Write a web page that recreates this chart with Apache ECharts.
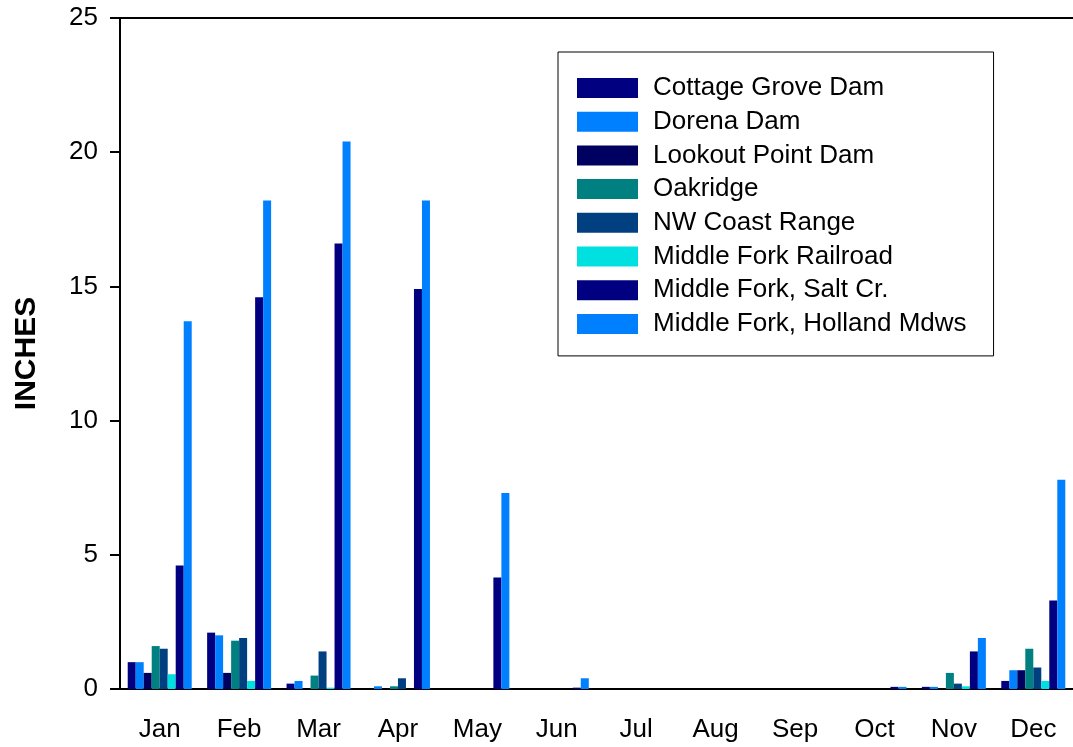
<!DOCTYPE html>
<html>
<head>
<meta charset="utf-8">
<script src="https://cdn.jsdelivr.net/npm/echarts@6/dist/echarts.min.js"></script>
<style>
  html, body { margin: 0; padding: 0; background: #fff; }
  #chart { width: 1073px; height: 747px; }
</style>
</head>
<body>
<div id="chart"></div>
<script>
// months on the x axis
const months = ['Jan', 'Feb', 'Mar', 'Apr', 'May', 'Jun', 'Jul', 'Aug', 'Sep', 'Oct', 'Nov', 'Dec'];

// inches per month, one array per station
const cottageGrove = [1.0, 2.1, 0.2, 0, 0, 0, 0, 0, 0, 0, 0.08, 0.3];
const dorena = [1.0, 2.0, 0.3, 0.1, 0, 0, 0, 0, 0, 0, 0.08, 0.7];
const lookoutPoint = [0.6, 0.6, 0, 0, 0, 0, 0, 0, 0, 0, 0, 0.7];
const oakridge = [1.6, 1.8, 0.5, 0.1, 0, 0, 0, 0, 0, 0, 0.6, 1.5];
const nwCoast = [1.5, 1.9, 1.4, 0.4, 0, 0, 0, 0, 0, 0, 0.2, 0.8];
const railroad = [0.55, 0.3, 0.05, 0, 0, 0, 0, 0, 0, 0, 0.1, 0.3];
const saltCr = [4.6, 14.6, 16.6, 14.9, 4.15, 0.05, 0, 0, 0, 0.08, 1.4, 3.3];
const hollandMdws = [13.7, 18.2, 20.4, 18.2, 7.3, 0.4, 0, 0, 0, 0.08, 1.9, 7.8];

const names = ['Cottage Grove Dam', 'Dorena Dam', 'Lookout Point Dam', 'Oakridge',
  'NW Coast Range', 'Middle Fork Railroad', 'Middle Fork, Salt Cr.', 'Middle Fork, Holland Mdws'];
const values = [cottageGrove, dorena, lookoutPoint, oakridge, nwCoast, railroad, saltCr, hollandMdws];
const colors = ['#000080', '#0080ff', '#000060', '#008080', '#004080', '#00e0e0', '#000080', '#0080ff'];

const font = '"Liberation Sans", Arial, sans-serif';

const chart = echarts.init(document.getElementById('chart'));

const series = names.map(function (n, i) {
  return {
    name: n,
    type: 'bar',
    data: values[i],
    barWidth: 8,
    barGap: '0%',
    itemStyle: { color: colors[i] },
    animation: false
  };
});

chart.setOption({
  animation: false,
  color: colors,
  grid: { left: 120, top: 18, width: 960, bottom: 58 },
  legend: {
    orient: 'vertical',
    left: 558,
    top: 52,
    data: names,
    icon: 'rect',
    itemWidth: 61,
    itemHeight: 20,
    itemGap: 7.7,
    padding: [23, 27, 19, 19],
    backgroundColor: '#fff',
    borderColor: '#000',
    borderWidth: 1,
    textStyle: {
      fontFamily: font,
      fontSize: 26,
      color: '#000',
      padding: [0, 0, 0, 10]
    }
  },
  xAxis: [
    {
      type: 'category',
      data: months,
      axisLine: { lineStyle: { color: '#000', width: 2 } },
      axisTick: { alignWithLabel: true, length: 8, lineStyle: { color: '#000', width: 2 } },
      axisLabel: { color: '#000', fontFamily: font, fontSize: 26, margin: 28 }
    },
    {
      type: 'category',
      position: 'top',
      data: months,
      axisLine: { lineStyle: { color: '#000', width: 2 } },
      axisTick: { show: false },
      axisLabel: { show: false }
    }
  ],
  yAxis: {
    type: 'value',
    min: 0,
    max: 25,
    interval: 5,
    name: 'INCHES',
    nameLocation: 'middle',
    nameGap: 78,
    nameTextStyle: { fontFamily: font, fontSize: 30, fontWeight: 'bold', color: '#000' },
    splitLine: { show: false },
    axisLine: { show: true, lineStyle: { color: '#000', width: 2 } },
    axisTick: { show: true, length: 10, lineStyle: { color: '#000', width: 2 } },
    axisLabel: { color: '#000', fontFamily: font, fontSize: 26, margin: 22 }
  },
  series: series
});
</script>
</body>
</html>
